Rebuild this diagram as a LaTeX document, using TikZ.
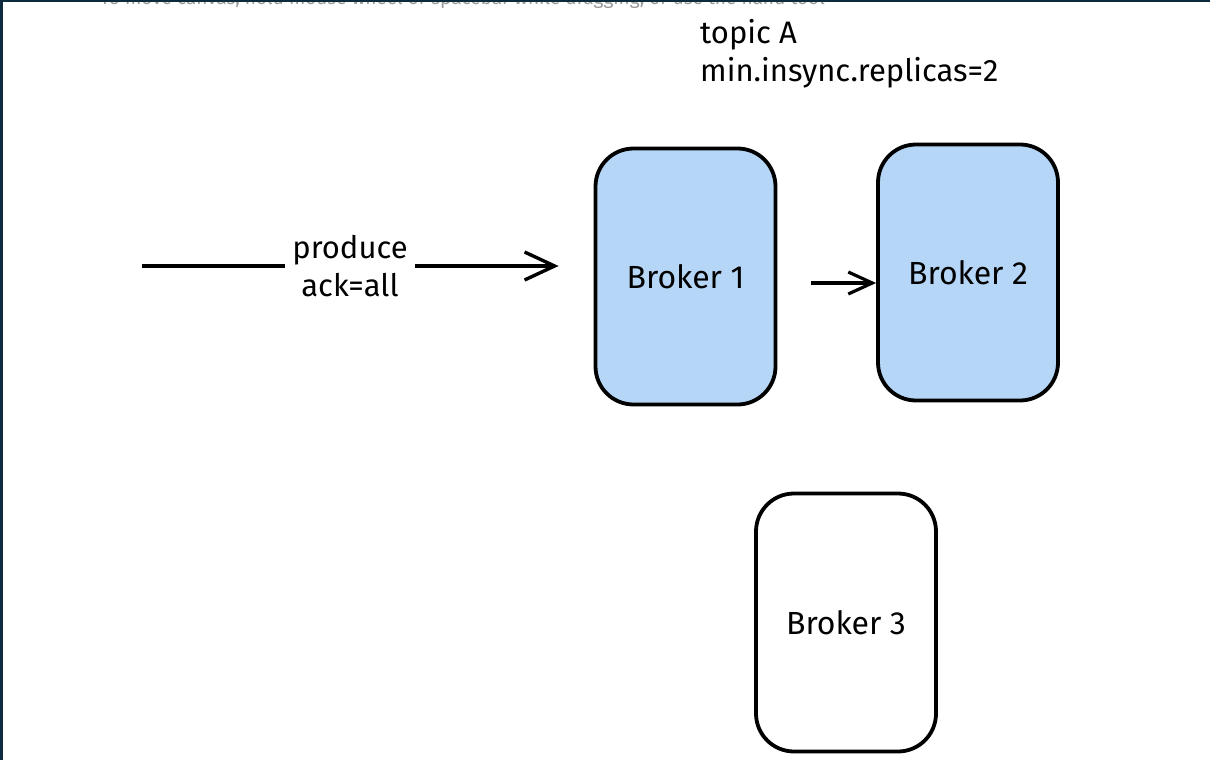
\documentclass[tikz,border=0pt]{standalone}
\usepackage{fontspec}
\setmainfont{Fira Sans}
\usetikzlibrary{arrows.meta}
\definecolor{frame}{HTML}{0E2A3F}
\definecolor{brokerblue}{HTML}{B5D6F6}
\definecolor{hintgrey}{HTML}{9A9A9A}
\tikzset{
  broker/.style={draw=black, line width=3.8pt, rounded corners=38pt, minimum width=180pt, minimum height=256pt, font=\fontsize{32}{36}\selectfont},
  conn/.style={line width=3.8pt, -{Straight Barb[length=30pt, width=28pt, line width=3.4pt]}},
  conntwo/.style={line width=3.4pt, -{Straight Barb[length=24pt, width=22pt, line width=3.2pt]}},
  lbl/.style={font=\fontsize{31}{38}\selectfont, align=left, inner sep=0pt},
}
\begin{document}
\begin{tikzpicture}[x=1pt, y=-1pt]
\useasboundingbox (0,0) rectangle (1210,760);
\fill[white] (0,0) rectangle (1210,760);
\begin{scope}
\clip (0,0) rectangle (1210,760);
\node[anchor=base west, text=hintgrey, font=\fontsize{19}{22}\selectfont, inner sep=0pt] (hint) at (100,5) {To move canvas, hold mouse wheel or spacebar while dragging, or use the hand tool};
\end{scope}
\fill[frame] (0,0) rectangle (1210,2.5);
\fill[frame] (0,0) rectangle (2.5,760);

\node[broker, fill=brokerblue] (b1) at (685.5,276.5) {Broker 1};
\node[broker, fill=brokerblue] (b2) at (968,272.5) {Broker 2};
\node[broker, fill=white, minimum height=258pt] (b3) at (846,622.5) {Broker 3};

\node[lbl, anchor=north west] (topic) at (700,19) {topic A\\min.insync.replicas=2};

\coordinate (src) at (142,266);
\draw[conn, shorten >=35pt] (src) -- (b1.west |- src);
\node[fill=white, inner xsep=7pt, inner ysep=2pt, align=center, font=\fontsize{31}{38}\selectfont] (prod) at (350,266) {produce\\ack=all};
\draw[conntwo, shorten <=34pt] (b1.east |- 0,283) -- (b2.west |- 0,283);
\end{tikzpicture}
\end{document}
